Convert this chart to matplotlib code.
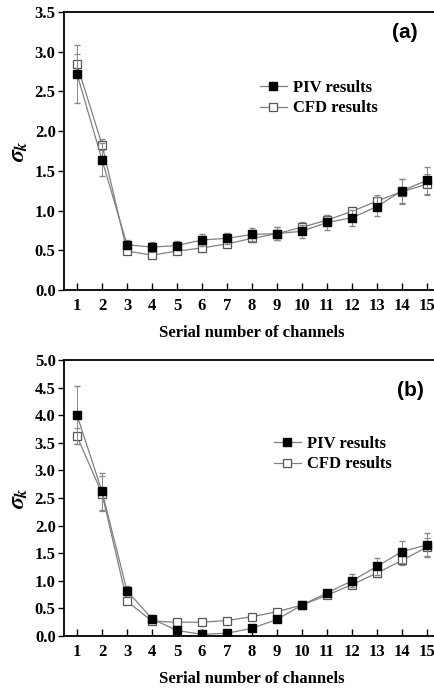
import numpy as np
import matplotlib
matplotlib.use('Agg')
import matplotlib.pyplot as plt

plt.rcParams['font.family'] = ['Liberation Serif', 'DejaVu Serif']
plt.rcParams['font.weight'] = 'bold'
plt.rcParams['mathtext.fontset'] = 'stix'

channels = list(range(1, 16))

# panel (a)
piv_a = [2.72, 1.64, 0.57, 0.54, 0.56, 0.63, 0.65, 0.70, 0.71, 0.74, 0.85, 0.91, 1.05, 1.25, 1.38]
piv_a_err = [0.36, 0.21, 0.06, 0.06, 0.06, 0.08, 0.07, 0.08, 0.08, 0.08, 0.09, 0.10, 0.12, 0.15, 0.17]
cfd_a = [2.84, 1.83, 0.49, 0.44, 0.49, 0.53, 0.58, 0.65, 0.71, 0.79, 0.88, 0.99, 1.12, 1.24, 1.33]
cfd_a_err = [0.13, 0.07, 0.04, 0.04, 0.04, 0.05, 0.05, 0.05, 0.08, 0.06, 0.07, 0.06, 0.08, 0.16, 0.13]

# panel (b)
piv_b = [4.00, 2.62, 0.82, 0.31, 0.10, 0.03, 0.05, 0.14, 0.30, 0.56, 0.78, 1.00, 1.26, 1.53, 1.65]
piv_b_err = [0.52, 0.33, 0.08, 0.04, 0.03, 0.03, 0.03, 0.04, 0.04, 0.04, 0.06, 0.12, 0.16, 0.20, 0.22]
cfd_b = [3.62, 2.58, 0.63, 0.27, 0.25, 0.25, 0.28, 0.35, 0.44, 0.56, 0.74, 0.93, 1.14, 1.37, 1.61]
cfd_b_err = [0.15, 0.31, 0.05, 0.04, 0.03, 0.03, 0.03, 0.04, 0.04, 0.04, 0.05, 0.06, 0.07, 0.08, 0.16]

fig = plt.figure(figsize=(4.35, 6.88), dpi=100)

W, H = 435.0, 688.0


def panel(rect, piv, piv_err, cfd, cfd_err, ymax, tag, tagpos, legpos):
    ax = fig.add_axes(rect)
    c = ax.errorbar(channels, cfd, yerr=cfd_err, color='#808080', lw=0.9, marker='s',
                    ms=6, mfc='white', mec='#555555', mew=0.9, ecolor='#888888',
                    elinewidth=0.7, capsize=2.5, zorder=2)
    p = ax.errorbar(channels, piv, yerr=piv_err, color='#808080', lw=0.9, marker='s',
                    ms=6, mfc='black', mec='black', ecolor='#888888',
                    elinewidth=0.7, capsize=2.5, zorder=3)
    ax.set_xlim(0.48, 15.5)
    ax.set_ylim(0, ymax)
    ax.set_xticks(channels)
    ax.set_yticks(np.arange(0, ymax + 0.01, 0.5))
    ax.yaxis.set_major_formatter(matplotlib.ticker.FormatStrFormatter('%.1f'))
    ax.tick_params(axis='x', direction='in', length=5, labelsize=12, pad=6)
    ax.tick_params(axis='y', direction='out', length=4, labelsize=12, pad=2)
    ax.tick_params(axis='both', width=1.0)
    for s in ax.spines.values():
        s.set_linewidth(1.3)
    ax.set_xlabel('Serial number of channels', fontsize=12, fontweight='bold', labelpad=8)
    ax.set_ylabel(r'$\sigma_k$', fontsize=17, labelpad=3)
    ax.text(tagpos[0], tagpos[1], tag, transform=fig.transFigure, fontsize=15,
            fontweight='bold', family='Liberation Sans', ha='center', va='center')
    # legend shows only line + marker, no error bars
    ax.legend([p.lines[0], c.lines[0]], ['PIV results', 'CFD results'],
              loc='center left', bbox_to_anchor=legpos,
              bbox_transform=fig.transFigure, frameon=False, fontsize=12,
              handlelength=1.6, handletextpad=0.4, labelspacing=0.3)
    return ax


left = 64 / W
width = (439.5 - 64) / W
panel([left, 1 - 290 / H, width, 278 / H], piv_a, piv_a_err, cfd_a, cfd_a_err, 3.5,
      '(a)', (405 / W, 1 - 33 / H), (245 / W, 1 - 98 / H))
panel([left, 1 - 636 / H, width, 276 / H], piv_b, piv_b_err, cfd_b, cfd_b_err, 5.0,
      '(b)', (410 / W, 1 - 390 / H), (259 / W, 1 - 454 / H))

fig.savefig('out.png', dpi=100)
